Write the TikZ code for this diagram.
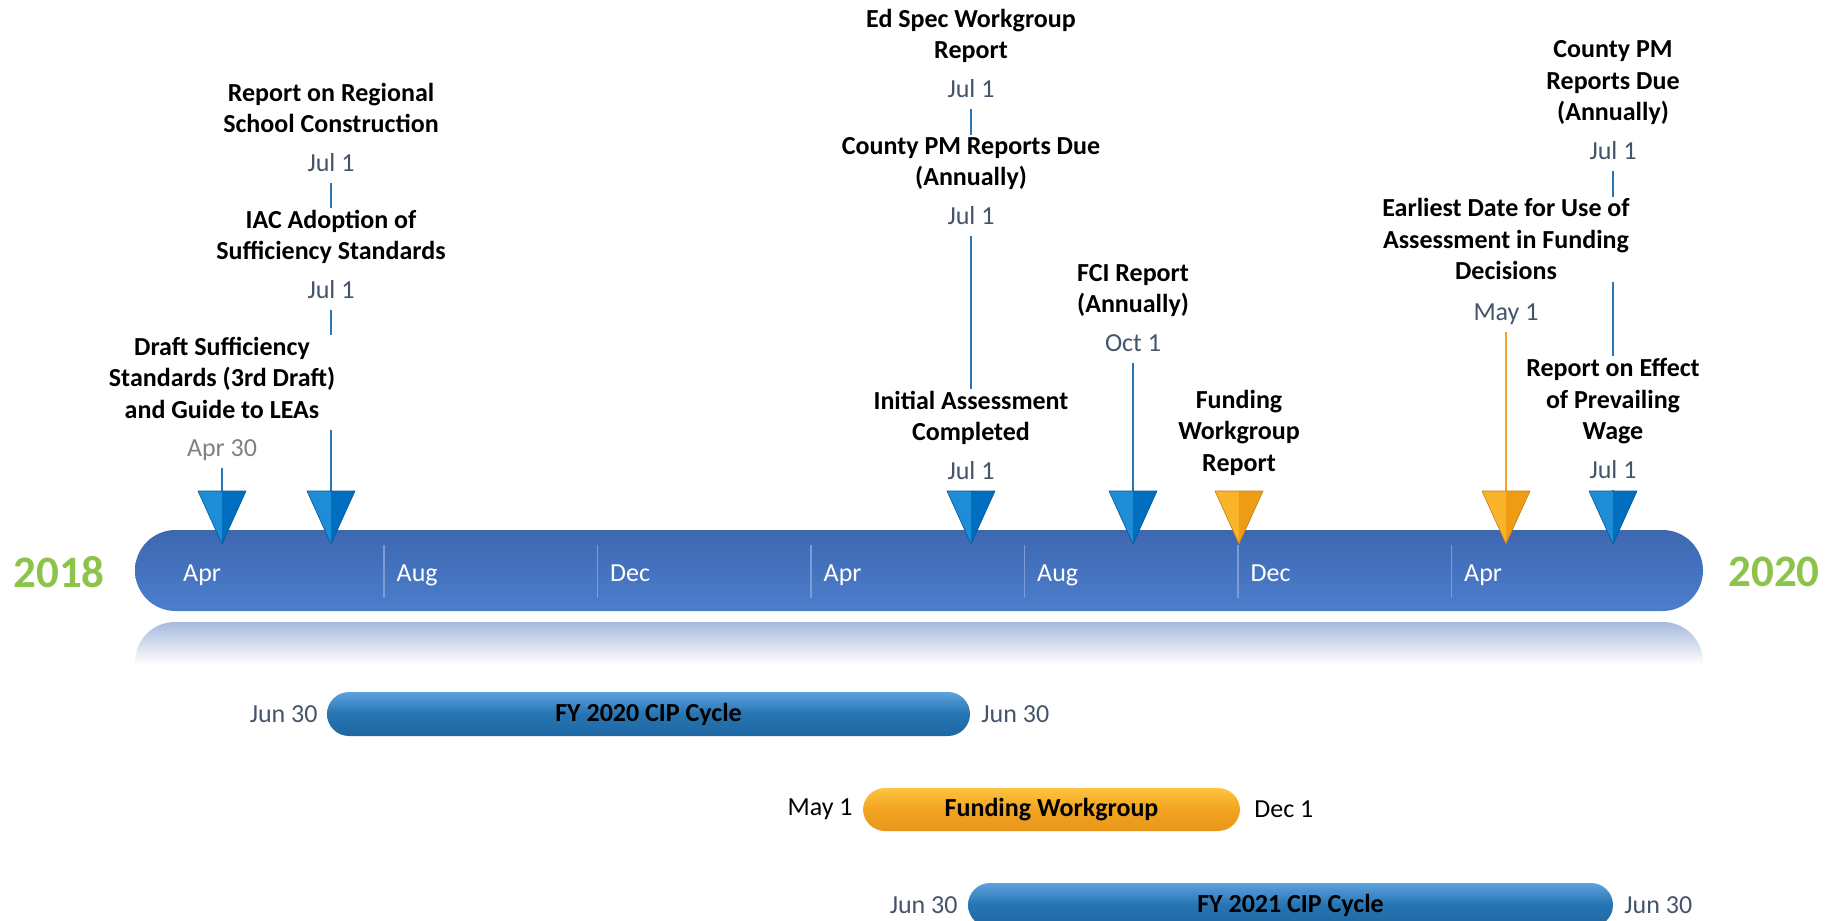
\documentclass[tikz,border=0pt]{standalone}
\usepackage{fontspec}
\setmainfont{Carlito}
\usetikzlibrary{positioning,backgrounds}

\definecolor{yeargreen}{RGB}{140,196,74}
\definecolor{datecol}{RGB}{68,84,106}
\definecolor{aprgrey}{RGB}{128,128,128}
\definecolor{stemcol}{RGB}{46,117,182}
\definecolor{stemorange}{RGB}{242,163,35}
\definecolor{bartop}{RGB}{62,103,177}
\definecolor{barbot}{RGB}{76,126,204}
\definecolor{sepcol}{RGB}{125,155,215}
\definecolor{reflcol}{RGB}{168,185,221}
\definecolor{mkblueL}{RGB}{30,140,215}
\definecolor{mkblueD}{RGB}{0,110,190}
\definecolor{mkorangeL}{RGB}{250,180,42}
\definecolor{mkorangeD}{RGB}{238,156,22}
\definecolor{cycletop}{RGB}{92,162,222}
\definecolor{cyclemid}{RGB}{38,116,178}
\definecolor{cyclebot}{RGB}{30,104,163}
\definecolor{fundtop}{RGB}{252,196,64}
\definecolor{fundmid}{RGB}{242,164,32}
\definecolor{fundbot}{RGB}{232,150,26}

\newcommand{\evdate}[1]{\\[7pt]{\mdseries\color{datecol}#1\strut}}

\tikzset{
  evlabel/.style={fill=white, align=center, inner xsep=4pt, inner ysep=2pt,
    font=\bfseries\fontsize{26}{31.5}\selectfont, anchor=south},
  datelbl/.style={font=\fontsize{26}{31.5}\selectfont, inner sep=2pt},
  monthlbl/.style={text=white, font=\fontsize{26}{31.5}\selectfont, anchor=base west, inner sep=0pt},
  yearlbl/.style={text=yeargreen, font=\bfseries\fontsize{45}{54}\selectfont},
  stemline/.style={stemcol, line width=2pt},
  cycbar/.style={rounded corners=22pt, minimum height=44pt, inner sep=0pt,
    font=\bfseries\fontsize{26}{31.5}\selectfont,
    top color=cycletop, bottom color=cyclebot, middle color=cyclemid},
  fundbar/.style={cycbar, top color=fundtop, bottom color=fundbot, middle color=fundmid},
  sidedate/.style={font=\fontsize{26}{31.5}\selectfont, inner sep=2pt, text=datecol}
}

\begin{document}
\begin{tikzpicture}[x=1pt,y=-1pt]
\useasboundingbox (0,0) rectangle (1832,921);
\clip (0,0) rectangle (1832,921);

% main timeline
\shade[rounded corners=40.5pt, top color=bartop, bottom color=barbot] (135,530) rectangle (1703,611);
\shade[top color=reflcol, bottom color=white] (135,665) [rounded corners=40pt] -- (135,622) -- (1703,622) [sharp corners] -- (1703,665) -- cycle;

\foreach \i in {1,...,6} {
        \draw[sepcol, line width=1.5pt] (170.5+213.5*\i,545) -- ++(0,53);
 }
\foreach \mo [count=\i from 0] in {Apr,Aug,Dec,Apr,Aug,Dec,Apr} {
        \node[monthlbl] (mo\i) at (183+213.5*\i,581.3) {\mo};
 }

\node[yearlbl] (y2018) at (59,572) {2018};
\node[yearlbl] (y2020) at (1774,572) {2020};

% milestones
\node[evlabel] (regional) at (331,182.75) {Report on Regional\\School Construction\evdate{Jul 1}};
\node[evlabel] (iac) at (331,309.75) {IAC Adoption of\\Sufficiency Standards\evdate{Jul 1}};
\node[evlabel] (draft) at (222,429.75) {Draft Sufficiency\\Standards (3rd Draft)\\and Guide to LEAs\strut};
\node[datelbl, text=aprgrey, anchor=base] (apr30) at (222,456.3) {Apr 30\strut};

\node[evlabel] (edspec) at (971,108.75) {Ed Spec Workgroup\\Report\evdate{Jul 1}};
\node[evlabel] (countyc) at (971,235.75) {County PM Reports Due\\(Annually)\evdate{Jul 1}};
\node[evlabel] (initial) at (971,490.75) {Initial Assessment\\Completed\evdate{Jul 1}};

\node[evlabel] (fci) at (1133,362.75) {FCI Report\\(Annually)\evdate{Oct 1}};
\node[evlabel] (fundrep) at (1239,482.75) {Funding\\Workgroup\\Report\strut};

\node[evlabel] (earliest) at (1506,282.3) {Earliest Date for Use of\\Assessment in Funding\\Decisions};
\node[datelbl, text=datecol, anchor=base] (may1) at (1506,320.3) {May 1\strut};
\node[evlabel] (countyr) at (1613,170.75) {County PM\\Reports Due\\(Annually)\evdate{Jul 1}};
\node[evlabel] (effect) at (1613,489.75) {Report on Effect\\of Prevailing\\Wage\evdate{Jul 1}};

% markers
\foreach \x/\lt/\dk [count=\i] in {222/mkblueL/mkblueD, 331/mkblueL/mkblueD, 971/mkblueL/mkblueD,
    1133/mkblueL/mkblueD, 1239/mkorangeL/mkorangeD, 1506/mkorangeL/mkorangeD, 1613/mkblueL/mkblueD} {
        \coordinate (m\i) at (\x,491);
        \fill[\lt] (\x-24,491) -- (\x,491) -- (\x,544) -- cycle;
        \fill[\dk] (\x,491) -- (\x+24,491) -- (\x,544) -- cycle;
        \draw[\dk!80!black, line width=0.6pt, line join=round] (\x-24,491) -- (\x+24,491) -- (\x,544) -- cycle;
 }

\begin{scope}[on background layer]
\draw[stemline] (apr30.south) -- (m1);
\draw[stemline] (regional.south) -- (m2);
\draw[stemline] (edspec.south) -- (m3);
\draw[stemline] (fci.south) -- (m4);
\draw[stemline, stemorange] (may1.south) -- (m6);
\draw[stemline] (countyr.south) -- (m7);
\end{scope}

% cycles
\node[cycbar, minimum width=643pt] (fy20) at (648.5,714) {FY 2020 CIP Cycle};
\node[sidedate, left=7pt of fy20] (fy20s) {Jun 30};
\node[sidedate, right=9pt of fy20] (fy20e) {Jun 30};

\node[fundbar, minimum width=377pt, minimum height=43pt] (fundwg) at (1051.5,809.5) {Funding Workgroup};
\node[sidedate, text=black, left=8pt of fundwg] (fundwgs) {May 1};
\node[sidedate, text=black, right=12pt of fundwg] (fundwge) {Dec 1};

\node[cycbar, minimum width=645pt] (fy21) at (1290.5,905) {FY 2021 CIP Cycle};
\node[sidedate, left=8pt of fy21] (fy21s) {Jun 30};
\node[sidedate, right=9pt of fy21] (fy21e) {Jun 30};

\end{tikzpicture}
\end{document}
